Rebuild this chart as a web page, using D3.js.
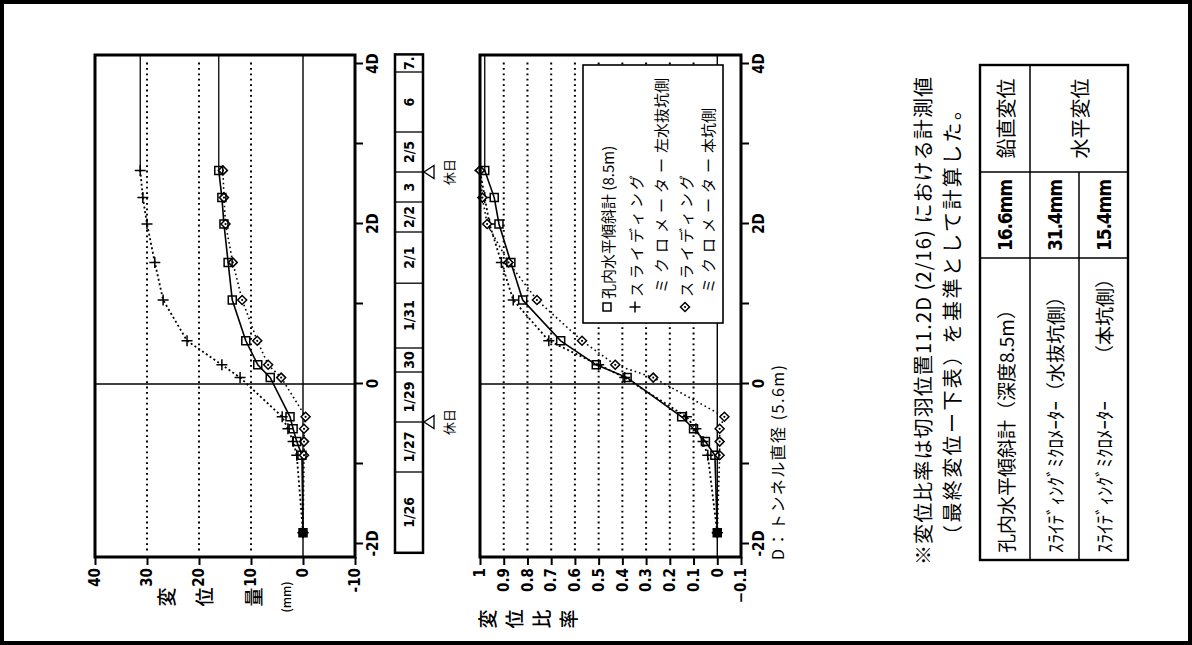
<!DOCTYPE html>
<html lang="ja">
<head>
<meta charset="UTF-8">
<title>変位量・変位比率</title>
<script src="https://d3js.org/d3.v7.min.js"></script>
<style>
  body { margin: 0; background: #fff; }
  svg { display: block; }
  .num { font-family: 'DejaVu Sans Condensed', 'Liberation Sans Narrow', 'DejaVu Sans', sans-serif; font-stretch: condensed; }
  .jp { font-family: 'Noto Sans CJK JP', sans-serif; fill: #000; }
</style>
</head>
<body>
<svg id="chart" width="1192" height="645"></svg>
<script>
// face position, in tunnel diameters D
var faceD = [-1.86, -0.89, -0.72, -0.56, -0.41, 0.08, 0.24, 0.54, 1.05, 1.52, 2.0, 2.33, 2.67];

// displacement (mm)
var inclMM  = [0, 0.2, 1.2, 1.9, 2.5, 6.3, 8.7, 11.0, 13.6, 14.4, 15.2, 15.6, 16.2];
var drainMM = [0, 1.2, 1.9, 2.9, 4.0, 12.1, 15.6, 22.3, 26.9, 28.5, 30.0, 30.8, 31.3];
var mainMM  = [0, -0.2, -0.2, -0.2, -0.5, 4.2, 6.7, 8.8, 11.7, 13.5, 14.9, 15.2, 15.4];

// displacement ratio
var inclRatio  = [0, 0.01, 0.05, 0.10, 0.15, 0.38, 0.51, 0.66, 0.82, 0.87, 0.92, 0.94, 0.98];
var drainRatio = [0, 0.04, 0.06, 0.09, 0.13, 0.39, 0.50, 0.71, 0.86, 0.91, 0.96, 0.98, 1.0];
var mainRatio  = [0, -0.01, -0.01, -0.01, -0.03, 0.27, 0.43, 0.57, 0.76, 0.88, 0.97, 0.99, 1.0];

// ticks
var dTicks = [-2, -1, 0, 1, 2, 3, 4];
var dLabels = {"-2": "-2D", "0": "0", "2": "2D", "4": "4D"};
var mmTicks = [40, 30, 20, 10, 0, -10];
var mmGrid = [30, 20, 10];
var ratioTicks = [1, 0.9, 0.8, 0.7, 0.6, 0.5, 0.4, 0.3, 0.2, 0.1, 0, -0.1];
var ratioGrid = [0.9, 0.8, 0.7, 0.6, 0.5, 0.4, 0.3, 0.2, 0.1];

// date strip (cell edges in D)
var dateLabels = ["1/26", "1/27", "1/29", "30", "1/31", "2/1", "2/2", "3", "2/5", "6", "7."];
var dateEdges = [-2.11, -1.1, -0.475, 0.15, 0.45, 1.26, 1.9, 2.275, 2.65, 3.15, 3.9, 4.12];
var holidays = [-0.475, 2.65];

// table
var tableNames = ["孔内水平傾斜計（深度8.5m）", "ｽﾗｲﾃﾞｨﾝｸﾞﾐｸﾛﾒｰﾀｰ（水抜坑側）", "ｽﾗｲﾃﾞｨﾝｸﾞﾐｸﾛﾒｰﾀｰ"];
var tableValues = ["16.6mm", "31.4mm", "15.4mm"];

var svg = d3.select("#chart");
svg.append("rect").attr("x", 2).attr("y", 2).attr("width", 1188).attr("height", 641)
   .attr("fill", "none").attr("stroke", "#000").attr("stroke-width", 4);

// the sheet is scanned sideways: build it upright and turn it a quarter turn
var page = svg.append("g").attr("transform", "translate(0,645) rotate(-90)");

var x = d3.scaleLinear().domain([-2, 4]).range([101, 581]);
var yMM = d3.scaleLinear().domain([40, -10]).range([95, 355]);
var yRatio = d3.scaleLinear().domain([1, -0.1]).range([480, 741]);
var boxL = 88, boxR = 590;

var marks = {
  square: "M-4,-4H4V4H-4Z",
  plus: "M-5.5,0H5.5M0,-5.5V5.5",
  diamond: "M0,-4.5L4.5,0L0,4.5L-4.5,0Z"
};

function drawPanel(y, grid, ticks, fmt, series) {
  var g = page.append("g");
  var top = y.range()[0], bot = y.range()[1];

  g.selectAll(".grid").data(grid).join("line")
    .attr("x1", x(-2.08)).attr("x2", x(4.03))
    .attr("y1", d => y(d)).attr("y2", d => y(d))
    .attr("stroke", "#000").attr("stroke-width", 2).attr("stroke-dasharray", "1.8,3.6");

  g.append("line").attr("x1", boxL).attr("x2", boxR).attr("y1", y(0)).attr("y2", y(0))
    .attr("stroke", "#000").attr("stroke-width", 1.4);
  g.append("line").attr("x1", x(0)).attr("x2", x(0)).attr("y1", top).attr("y2", bot)
    .attr("stroke", "#000").attr("stroke-width", 1.4);

  series.forEach(function (s) {
    var pts = faceD.map((d, i) => [x(d), y(s.values[i])]);
    var last = s.values[s.values.length - 1];
    // final reading carried on past the last point
    if (s.ext) g.append("line").attr("x1", x(faceD[faceD.length - 1])).attr("x2", boxR - 1)
      .attr("y1", y(last)).attr("y2", y(last)).attr("stroke", "#000").attr("stroke-width", 1.3);
    g.append("path").attr("d", d3.line()(pts)).attr("fill", "none")
      .attr("stroke", "#000").attr("stroke-width", s.width).attr("stroke-dasharray", s.dash);
  });

  series.forEach(function (s) {
    var pts = faceD.map((d, i) => [x(d), y(s.values[i])]);
    var m = g.selectAll(null).data(pts).join("g").attr("transform", p => "translate(" + p + ")");
    m.append("path").attr("d", marks[s.mark])
      .attr("fill", (p, i) => s.mark == "square" && i == 0 ? "#000" : s.mark == "diamond" ? "#fff" : "none")
      .attr("stroke", "#000").attr("stroke-width", 1.5);
    if (s.mark == "diamond") m.append("circle").attr("r", 1.1).attr("fill", "#000");
  });

  g.append("rect").attr("x", boxL).attr("y", top).attr("width", boxR - boxL).attr("height", bot - top)
    .attr("fill", "none").attr("stroke", "#000").attr("stroke-width", 3);

  var ax = g.append("g").attr("transform", "translate(0," + bot + ")")
    .call(d3.axisBottom(x).tickValues(dTicks).tickSize(8).tickPadding(4).tickFormat(d => dLabels[d] || ""));
  var ay = g.append("g").attr("transform", "translate(" + boxL + ",0)")
    .call(d3.axisLeft(y).tickValues(ticks).tickSize(8).tickPadding(3).tickFormat(fmt));
  [ax, ay].forEach(function (a) {
    a.select(".domain").remove();
    a.selectAll("line").attr("stroke-width", 2);
    a.selectAll("text").attr("class", "num").attr("font-size", 15).attr("font-weight", "bold").attr("fill", "#000");
  });
  return g;
}

drawPanel(yMM, mmGrid, mmTicks, d => String(d), [
  {values: drainMM, mark: "plus", dash: "2,2.6", width: 1.8, ext: true},
  {values: mainMM, mark: "diamond", dash: "1.6,3", width: 1.6, ext: false},
  {values: inclMM, mark: "square", dash: null, width: 1.6, ext: true}
]);

drawPanel(yRatio, ratioGrid, ratioTicks, d => d === 0 ? "0" : d === 1 ? "1" : d3.format(".1f")(d), [
  {values: drainRatio, mark: "plus", dash: "2,2.6", width: 1.8, ext: true},
  {values: mainRatio, mark: "diamond", dash: "1.6,3", width: 1.6, ext: true},
  {values: inclRatio, mark: "square", dash: null, width: 1.6, ext: true}
]);

// y titles, written down the side one character at a time
var yTitleA = [["変", 48, 165, 19], ["位", 48, 203, 19], ["量", 48, 252, 19], ["(mm)", 48, 285, 12]];
var yTitleB = [["変", 26, 486, 19], ["位", 26, 513, 19], ["比", 26, 540, 19], ["率", 26, 567, 19]];
yTitleA.concat(yTitleB).forEach(function (t) {
  page.append("text").attr("class", "jp").attr("x", t[1]).attr("y", t[2])
    .attr("text-anchor", "middle").attr("dominant-baseline", "central")
    .attr("font-size", t[3]).attr("font-weight", 500).text(t[0]);
});

// D axis title
page.append("text").attr("class", "jp").attr("x", 85).attr("y", 777)
  .attr("dominant-baseline", "central").attr("font-size", 16)
  .attr("textLength", 195).attr("lengthAdjust", "spacing").text("D：トンネル直径 (5.6m)");

// date strip
var strip = page.append("g");
var s0 = 395, s1 = 423;
strip.selectAll(".sep").data(dateEdges.slice(1, -1)).join("line")
  .attr("x1", d => x(d)).attr("x2", d => x(d)).attr("y1", s0).attr("y2", s1)
  .attr("stroke", "#000").attr("stroke-width", 1.3);
strip.append("rect").attr("x", x(dateEdges[0])).attr("y", s0)
  .attr("width", x(dateEdges[dateEdges.length - 1]) - x(dateEdges[0])).attr("height", s1 - s0)
  .attr("fill", "none").attr("stroke", "#000").attr("stroke-width", 2.5);
strip.selectAll(".lbl").data(dateLabels).join("text").attr("class", "num")
  .attr("x", (d, i) => (x(dateEdges[i]) + x(dateEdges[i + 1])) / 2).attr("y", (s0 + s1) / 2)
  .attr("text-anchor", "middle").attr("dominant-baseline", "central")
  .attr("font-size", 14).attr("font-weight", "bold").text(d => d);
var hol = strip.selectAll(".hol").data(holidays).join("g").attr("transform", d => "translate(" + x(d) + "," + (s1 + 1) + ")");
hol.append("path").attr("d", "M0,0L6.5,10L-6.5,10Z").attr("fill", "#fff").attr("stroke", "#000").attr("stroke-width", 1.3);
hol.append("text").attr("class", "jp").attr("y", 24).attr("text-anchor", "middle")
  .attr("dominant-baseline", "central").attr("font-size", 13).text("休日");

// legend
var lg = page.append("g");
lg.append("rect").attr("x", 322).attr("y", 583).attr("width", 258).attr("height", 140)
  .attr("fill", "#fff").attr("stroke", "#000").attr("stroke-width", 1.6);
[["square", 607], ["plus", 635], ["diamond", 685]].forEach(function (m) {
  var k = lg.append("g").attr("transform", "translate(338," + m[1] + ")");
  k.append("path").attr("d", marks[m[0]]).attr("fill", "none").attr("stroke", "#000").attr("stroke-width", 1.5);
  if (m[0] == "diamond") k.append("circle").attr("r", 1.1);
});
function legendText(xp, yp, parts) {
  var t = lg.append("text").attr("class", "jp").attr("x", xp).attr("y", yp)
    .attr("dominant-baseline", "central").attr("font-size", 15);
  parts.forEach(p => t.append("tspan").attr("letter-spacing", p[1]).text(p[0]));
}
legendText(346, 607, [["孔内水平傾斜計 (8.5m)", 0]]);
legendText(348, 635, [["スライディング", 3]]);
legendText(352, 660, [["ミクロメーター", 5], ["左水抜坑側", 0]]);
legendText(348, 685, [["スライディング", 3]]);
legendText(352, 707, [["ミクロメーター", 5], ["本坑側", 0]]);

// note
page.append("text").attr("class", "jp").attr("x", 80).attr("y", 922)
  .attr("dominant-baseline", "central").attr("font-size", 20)
  .attr("textLength", 488).attr("lengthAdjust", "spacing")
  .text("※変位比率は切羽位置11.2D (2/16) における計測値");
page.append("text").attr("class", "jp").attr("x", 100).attr("y", 951)
  .attr("dominant-baseline", "central").attr("font-size", 20)
  .attr("textLength", 445).attr("lengthAdjust", "spacing")
  .text("（最終変位ー下表）を基準として計算した。");

// table
var tb = page.append("g");
var tx = [85, 387, 473, 580], ty = [980, 1030, 1079, 1128];
tb.append("line").attr("x1", tx[1]).attr("x2", tx[1]).attr("y1", ty[0]).attr("y2", ty[3]).attr("stroke", "#000").attr("stroke-width", 1.5);
tb.append("line").attr("x1", tx[2]).attr("x2", tx[2]).attr("y1", ty[0]).attr("y2", ty[3]).attr("stroke", "#000").attr("stroke-width", 1.5);
tb.append("line").attr("x1", tx[0]).attr("x2", tx[3]).attr("y1", ty[1]).attr("y2", ty[1]).attr("stroke", "#000").attr("stroke-width", 1.5);
tb.append("line").attr("x1", tx[0]).attr("x2", tx[2]).attr("y1", ty[2]).attr("y2", ty[2]).attr("stroke", "#000").attr("stroke-width", 1.5);
tb.append("rect").attr("x", tx[0]).attr("y", ty[0]).attr("width", tx[3] - tx[0]).attr("height", ty[3] - ty[0])
  .attr("fill", "none").attr("stroke", "#000").attr("stroke-width", 2.4);
tableNames.forEach(function (n, i) {
  tb.append("text").attr("class", "jp").attr("x", 92).attr("y", (ty[i] + ty[i + 1]) / 2)
    .attr("dominant-baseline", "central").attr("font-size", 19).text(n);
});
tb.append("text").attr("class", "jp").attr("x", 376).attr("y", (ty[2] + ty[3]) / 2)
  .attr("text-anchor", "end").attr("dominant-baseline", "central").attr("font-size", 19).text("（本坑側）");
tableValues.forEach(function (v, i) {
  tb.append("text").attr("class", "num").attr("x", (tx[1] + tx[2]) / 2).attr("y", (ty[i] + ty[i + 1]) / 2)
    .attr("text-anchor", "middle").attr("dominant-baseline", "central").attr("font-size", 19)
    .attr("font-weight", "bold").attr("textLength", 72).attr("lengthAdjust", "spacing").text(v);
});
tb.append("text").attr("class", "jp").attr("x", (tx[2] + tx[3]) / 2).attr("y", (ty[0] + ty[1]) / 2)
  .attr("text-anchor", "middle").attr("dominant-baseline", "central").attr("font-size", 20).text("鉛直変位");
tb.append("text").attr("class", "jp").attr("x", (tx[2] + tx[3]) / 2).attr("y", ty[2])
  .attr("text-anchor", "middle").attr("dominant-baseline", "central").attr("font-size", 20).text("水平変位");
</script>
</body>
</html>
